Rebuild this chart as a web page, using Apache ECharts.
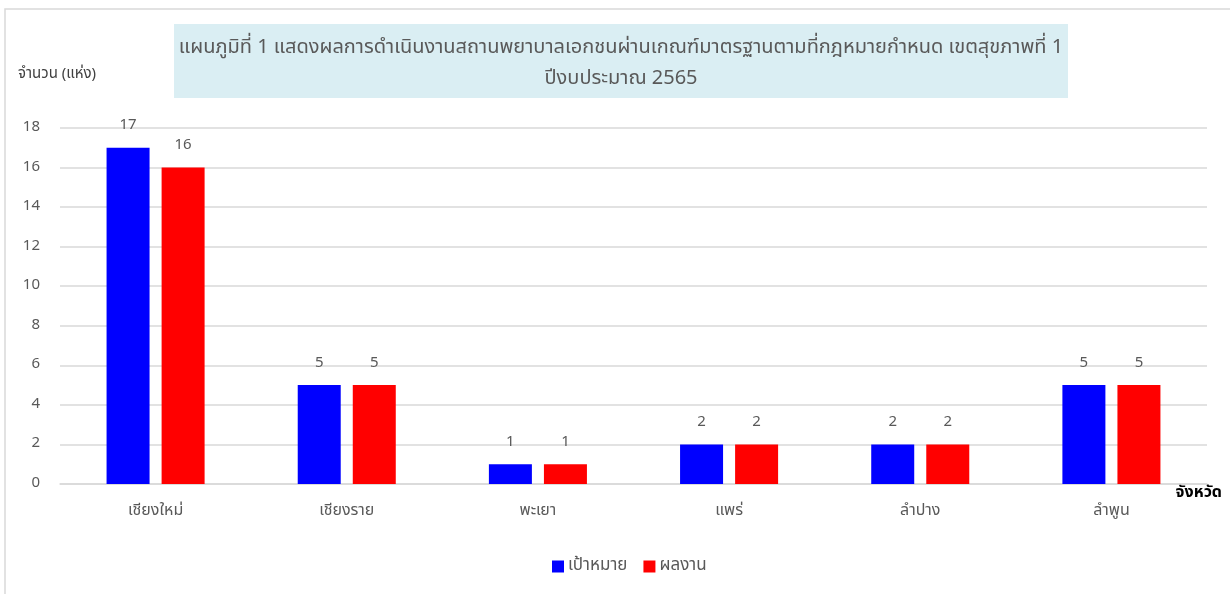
<!DOCTYPE html>
<html>
<head>
<meta charset="utf-8">
<script src="https://cdn.jsdelivr.net/npm/echarts@6/dist/echarts.min.js"></script>
<style>
  html, body { margin: 0; padding: 0; background: #fff; }
  #chart { width: 1230px; height: 594px; }
</style>
</head>
<body>
<div id="chart"></div>
<script>
const provinces = ['เชียงใหม่', 'เชียงราย', 'พะเยา', 'แพร่', 'ลำปาง', 'ลำพูน'];
const targets = [17, 5, 1, 2, 2, 5];
const results = [16, 5, 1, 2, 2, 5];
const yTicks = { min: 0, max: 18, interval: 2 };

const FONT = "'Noto Sans Thai', 'Noto Sans', 'DejaVu Sans', sans-serif";
const chart = echarts.init(document.getElementById('chart'));

// set options for chart
const option = {
  animation: false,
  textStyle: { fontFamily: FONT },
  graphic: [
    {
      type: 'rect',
      shape: { x: 5, y: 9, width: 1240, height: 600 },
      style: { fill: 'none', stroke: '#d9d9d9', lineWidth: 1.5 },
      silent: true
    },
    {
      type: 'rect',
      shape: { x: 174, y: 24, width: 894, height: 74 },
      style: { fill: '#daeef3' },
      silent: true
    },
    {
      type: 'text',
      style: {
        x: 621, y: 33,
        text: 'แผนภูมิที่ 1 แสดงผลการดำเนินงานสถานพยาบาลเอกชนผ่านเกณฑ์มาตรฐานตามที่กฎหมายกำหนด เขตสุขภาพที่ 1\nปีงบประมาณ 2565',
        fill: '#595959',
        font: '20px ' + FONT,
        textAlign: 'center',
        lineHeight: 31
      }
    }
  ],
  legend: {
    bottom: 14,
    left: 547,
    itemWidth: 12,
    itemHeight: 12,
    itemGap: 16,
    icon: 'rect',
    textStyle: { color: '#595959', fontSize: 17, fontFamily: FONT, padding: [0, 0, 0, -1] },
    data: ['เป้าหมาย', 'ผลงาน']
  },
  grid: {
    left: 60,
    right: 23,
    top: 128,
    bottom: 110,
    containLabel: false
  },
  xAxis: {
    type: 'category',
    data: provinces,
    name: 'จังหวัด',
    nameLocation: 'end',
    nameGap: 15,
    nameTextStyle: {
      color: '#000',
      fontWeight: 'bold',
      fontSize: 16,
      fontFamily: FONT,
      align: 'right',
      verticalAlign: 'top',
      padding: [2, 0, 0, 0]
    },
    axisLine: { lineStyle: { color: '#d9d9d9', width: 1.5 } },
    axisTick: { show: false },
    axisLabel: { color: '#595959', fontSize: 16, margin: 20, fontFamily: FONT }
  },
  yAxis: {
    type: 'value',
    min: yTicks.min,
    max: yTicks.max,
    interval: yTicks.interval,
    name: 'จำนวน (แห่ง)',
    nameLocation: 'end',
    nameGap: 46,
    nameTextStyle: {
      color: '#404040',
      fontSize: 15,
      fontFamily: FONT,
      align: 'left',
      padding: [0, 0, 0, -42]
    },
    axisLine: { show: false },
    axisTick: { show: false },
    splitLine: { lineStyle: { color: '#d9d9d9', width: 1.5 } },
    axisLabel: { color: '#595959', fontSize: 15, margin: 20, fontFamily: FONT }
  },
  series: [
    {
      name: 'เป้าหมาย',
      type: 'bar',
      data: targets,
      barWidth: 43,
      barGap: '28%',
      itemStyle: { color: '#0000ff' },
      label: { show: true, position: 'top', distance: 14, color: '#595959', fontSize: 15, fontFamily: FONT }
    },
    {
      name: 'ผลงาน',
      type: 'bar',
      data: results,
      barWidth: 43,
      itemStyle: { color: '#ff0000' },
      label: { show: true, position: 'top', distance: 14, color: '#595959', fontSize: 15, fontFamily: FONT }
    }
  ]
};

// use options to generate chart
chart.setOption(option);
</script>
</body>
</html>
